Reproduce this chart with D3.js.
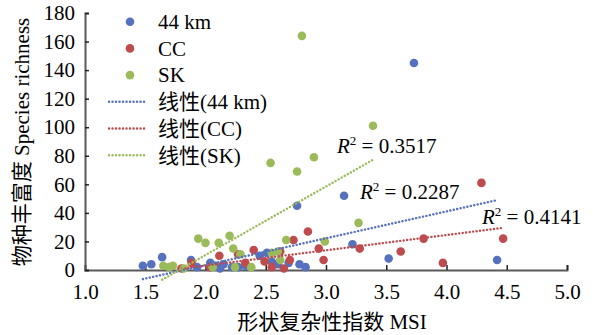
<!DOCTYPE html>
<html>
<head>
<meta charset="utf-8">
<script src="https://cdn.jsdelivr.net/npm/d3@7/dist/d3.min.js"></script>
<style>
  html, body { margin: 0; padding: 0; background: #fff; }
  svg text { font-family: "Liberation Serif", "Noto Sans CJK SC", serif; fill: #000; }
</style>
</head>
<body>
<svg id="chart" width="593" height="335"></svg>
<script>
// Series: MSI (x) and species richness (y)
const msi44  = [1.48, 1.55, 1.64, 1.88, 1.93, 2.04, 2.08, 2.12, 2.15, 2.22, 2.27, 2.33, 2.45, 2.51, 2.55, 2.60, 2.69, 2.76, 2.78, 2.83, 3.15, 3.22, 3.52, 3.73, 4.42];
const rich44 = [3, 4, 9, 7, 2, 5, 3, 1, 4, 2, 2, 3, 10, 12, 6, 4, 5, 45, 4, 2, 52, 18, 8, 145, 7];

const msiCC  = [1.80, 1.885, 2.04, 2.115, 2.27, 2.33, 2.40, 2.49, 2.55, 2.62, 2.65, 2.70, 2.73, 2.85, 2.94, 2.98, 3.28, 3.62, 3.81, 3.97, 4.29, 4.47];
const richCC = [1, 5, 2, 10, 11, 5, 14, 6, 2, 13, 1, 7, 21, 27, 15, 7, 15, 13, 22, 5, 61, 22];

const msiSK  = [1.65, 1.70, 1.73, 1.82, 1.94, 2.00, 2.06, 2.11, 2.20, 2.23, 2.245, 2.29, 2.38, 2.54, 2.55, 2.60, 2.62, 2.67, 2.76, 2.80, 2.90, 2.99, 3.27, 3.39];
const richSK = [3, 2, 3, 1, 22, 19, 2, 19, 24, 15, 2, 11, 2, 75, 12, 13, 7, 21, 69, 164, 79, 20, 33, 101];

// Linear fits per series
const seriesNames  = ["44 km", "CC", "SK"];
const fitSlope     = [18.82, 10.7, 48.0];
const fitIntercept = [-34.23, -18.3, -85.5];
const fitStart     = [1.48, 1.80, 1.64];
const fitEnd       = [4.42, 4.46, 3.39];
const fitR2        = ["0.2287", "0.4141", "0.3517"];

// Axis ticks
const xTicks = [1.0, 1.5, 2.0, 2.5, 3.0, 3.5, 4.0, 4.5, 5.0];
const yTicks = [0, 20, 40, 60, 80, 100, 120, 140, 160, 180];

const colors = ["#5671BD", "#BE4B4E", "#9BBB5B"];

const svg = d3.select("#chart");
const x = d3.scaleLinear().domain([1.0, 5.0]).range([85, 567]);
const y = d3.scaleLinear().domain([0, 180]).range([270, 13]);
const axisColor = "#595959";
const fontSize = 21;

// Axes
const xAxis = svg.append("g").attr("transform", `translate(0,${y(0)})`)
  .call(d3.axisBottom(x).tickValues(xTicks).tickSize(-5).tickFormat(d3.format(".1f")).tickPadding(12));
const yAxis = svg.append("g").attr("transform", `translate(${x(1.0)},0)`)
  .call(d3.axisLeft(y).tickValues(yTicks).tickSize(-4).tickPadding(10));
[xAxis, yAxis].forEach(g => {
  g.select(".domain").attr("stroke", axisColor).attr("stroke-width", 2);
  g.selectAll(".tick line").attr("stroke", "#222").attr("stroke-width", 1.5);
  g.selectAll(".tick text").attr("font-size", fontSize)
    .attr("font-family", "Liberation Serif, serif").attr("fill", "#000");
});
xAxis.selectAll(".tick text").attr("dy", "0.35em").attr("y", 22);

// Axis titles
svg.append("text")
  .attr("x", 332).attr("y", 329)
  .attr("text-anchor", "middle").attr("font-size", fontSize)
  .text("形状复杂性指数 MSI");
svg.append("text")
  .attr("transform", `translate(29,142) rotate(-90)`)
  .attr("text-anchor", "middle").attr("font-size", fontSize)
  .text("物种丰富度 Species richness");

// Scatter points
const series = [
  { xs: msi44, ys: rich44 },
  { xs: msiCC, ys: richCC },
  { xs: msiSK, ys: richSK }
];
series.forEach((s, i) => {
  svg.append("g").selectAll("circle")
    .data(s.xs.map((v, k) => [v, s.ys[k]]))
    .join("circle")
    .attr("cx", d => x(d[0])).attr("cy", d => y(d[1]))
    .attr("r", 4.3).attr("fill", colors[i]);
});

// Dotted linear trend lines
const dotStyle = sel => sel.attr("stroke-width", 2.4).attr("stroke-dasharray", "0.1 3.4").attr("stroke-linecap", "round").attr("fill", "none");
seriesNames.forEach((name, i) => {
  const f = v => fitSlope[i] * v + fitIntercept[i];
  svg.append("line")
    .attr("x1", x(fitStart[i])).attr("y1", y(f(fitStart[i])))
    .attr("x2", x(fitEnd[i])).attr("y2", y(f(fitEnd[i])))
    .attr("stroke", colors[i]).call(dotStyle);
});

// R² labels
const r2Pos = [[360, 199], [482, 224], [337, 153]];
fitR2.forEach((val, i) => {
  const t = svg.append("text").attr("x", r2Pos[i][0]).attr("y", r2Pos[i][1]).attr("font-size", fontSize);
  t.append("tspan").attr("font-style", "italic").text("R");
  t.append("tspan").attr("font-size", 13).attr("dy", -8).text("2");
  t.append("tspan").attr("dy", 8).text(" = " + val);
});

// Legend
const legend = svg.append("g");
const rowY = k => 21.7 + k * 26.7;
seriesNames.forEach((name, i) => {
  legend.append("circle").attr("cx", 130).attr("cy", rowY(i)).attr("r", 4.3).attr("fill", colors[i]);
  legend.append("text").attr("x", 158).attr("y", rowY(i)).attr("dy", "0.35em")
    .attr("font-size", fontSize).text(name);
  legend.append("line")
    .attr("x1", 109).attr("x2", 145).attr("y1", rowY(i + 3)).attr("y2", rowY(i + 3))
    .attr("stroke", colors[i]).call(dotStyle);
  legend.append("text").attr("x", 158).attr("y", rowY(i + 3)).attr("dy", "0.35em")
    .attr("font-size", fontSize).text("线性(" + name + ")");
});
</script>
</body>
</html>
